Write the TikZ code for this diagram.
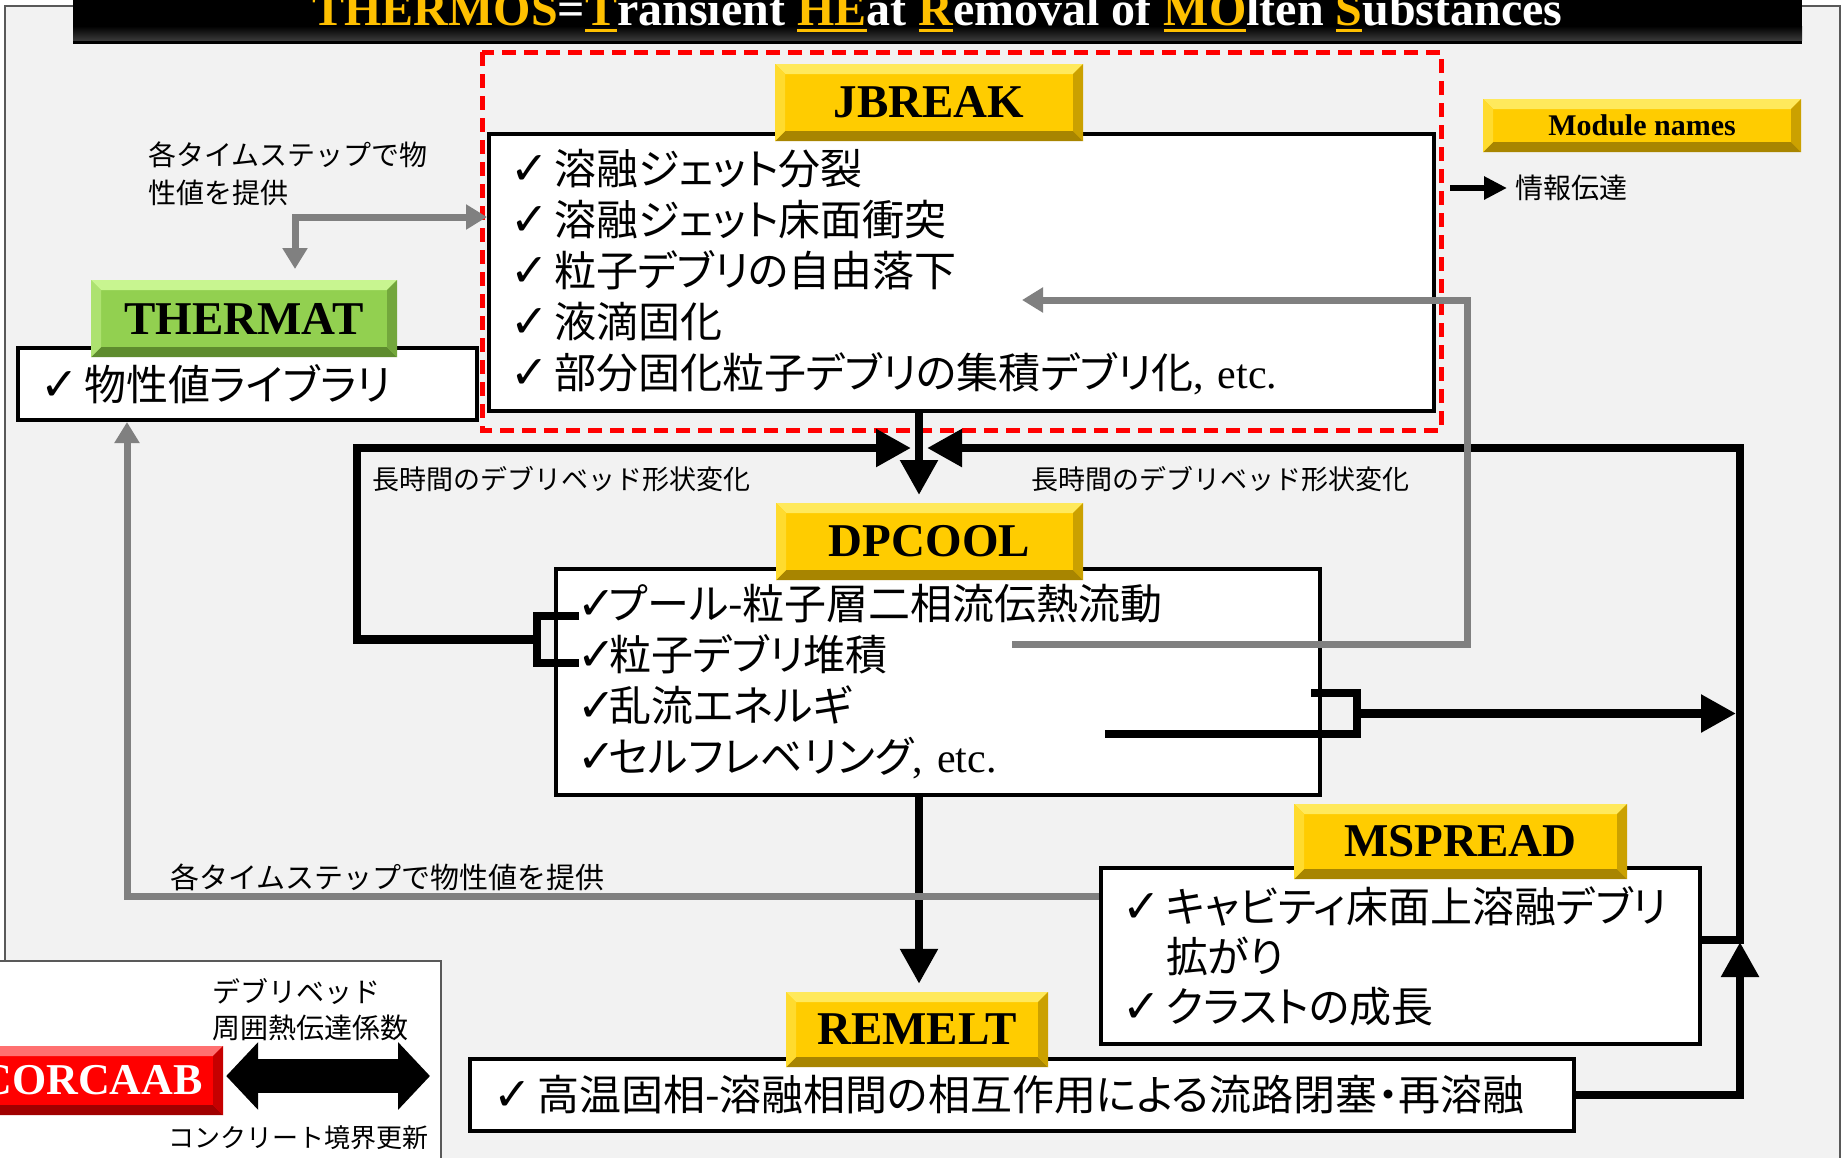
\documentclass[tikz,border=0pt]{standalone}
\usepackage{fontspec}
\setmainfont{Liberation Serif}
\newfontfamily\jp{Noto Sans CJK JP}
\newfontfamily\jpp[RawFeature=+palt]{Noto Sans CJK JP}
\newfontfamily\dv{DejaVu Sans}
\usetikzlibrary{arrows.meta}
\definecolor{bgframe}{HTML}{F2F2F2}
\definecolor{ttl}{HTML}{FFC000}
\definecolor{ybase}{HTML}{FFCC00}
\definecolor{ylight}{HTML}{FFE95C}
\definecolor{ydark}{HTML}{A88500}
\definecolor{gbase}{HTML}{92D050}
\definecolor{glight}{HTML}{C8F590}
\definecolor{gdark}{HTML}{5E8C2E}
\definecolor{rbase}{HTML}{FF0000}
\definecolor{rlight}{HTML}{FF7070}
\definecolor{rdark}{HTML}{A00000}
\definecolor{gline}{HTML}{808080}
\newcommand\ckm{\makebox[26pt][l]{\dv\fontsize{46}{46}\selectfont ✓}}
\newcommand\bodyfont{\jpp\fontsize{42}{51}\selectfont}
\newsavebox\ytubox
\newcommand\ytu[1]{\sbox\ytubox{#1}\rlap{\rule[-7pt]{\wd\ytubox}{3.5pt}}\usebox\ytubox}
\tikzset{
  bevel/.style n args={3}{fill=#1, path picture={
    \path (path picture bounding box.north west) coordinate (bnw)
          (path picture bounding box.north east) coordinate (bne)
          (path picture bounding box.south west) coordinate (bsw)
          (path picture bounding box.south east) coordinate (bse);
    \fill[#2] (bnw) -- (bne) -- ([shift={(-10pt,-10pt)}]bne) -- ([shift={(10pt,-10pt)}]bnw) -- cycle;
    \fill[#3] (bsw) -- (bse) -- ([shift={(-10pt,10pt)}]bse) -- ([shift={(10pt,10pt)}]bsw) -- cycle;
    \fill[#2!50!#1] (bnw) -- (bsw) -- ([shift={(10pt,10pt)}]bsw) -- ([shift={(10pt,-10pt)}]bnw) -- cycle;
    \fill[#3!60!#1] (bne) -- (bse) -- ([shift={(-10pt,10pt)}]bse) -- ([shift={(-10pt,-10pt)}]bne) -- cycle;
  }},
}
\begin{document}
\begin{tikzpicture}[x=1pt,y=-1pt,
  wbox/.style={draw=black, line width=4pt, fill=white, inner ysep=0pt, align=left, font=\bodyfont, anchor=center},
  modlab/.style={inner sep=0pt, font=\bfseries\fontsize{47}{47}\selectfont},
  yl/.style={bevel={ybase}{ylight}{ydark}},
  blk/.style={draw=black, line width=8.5pt},
  blkarr/.style={-{Triangle[length=35pt,width=36pt]}},
  gry/.style={draw=gline, line width=7pt},
  gryarr/.style={-{Triangle[length=21pt,width=24pt]}},
  lbl/.style={inner sep=0pt, anchor=west, align=left},
]
\useasboundingbox (0,0) rectangle (1843,1157);
\fill[white] (0,0) rectangle (1843,1157);
% frame
\draw[fill=bgframe, draw=black!65, line width=2.5pt] (5,6) rectangle (1840,1170);
\draw[fill=white, draw=black!65, line width=2.5pt] (-10,961) rectangle (441,1175);
% title
\fill[black] (73,-5) rectangle (1802,44);
\shade[top color=black, bottom color=black!78!white] (73,26) rectangle (1802,40);
\node[anchor=base, text=white, inner sep=0pt, font=\bfseries\fontsize{48}{48}\selectfont] (title) at (937.5,25)
  {{\color{ttl}THERMOS}={\color{ttl}\ytu{T}}ransient {\color{ttl}\ytu{HE}}at {\color{ttl}\ytu{R}}emoval of {\color{ttl}\ytu{MO}}lten {\color{ttl}\ytu{S}}ubstances};
% red dashed group
\draw[red, line width=5pt, dash pattern=on 14pt off 8pt] (482,52) rectangle (1441,430);
% boxes
\node[wbox, minimum width=945pt, minimum height=277pt, text width=903pt, inner xsep=21pt] (jbbox) at (961.5,272.5) {%
\ckm\kern18pt 溶融ジェット分裂\\
\ckm\kern18pt 溶融ジェット床面衝突\\
\ckm\kern18pt 粒子デブリの自由落下\\
\ckm\kern18pt 液滴固化\\
\ckm\kern18pt 部分固化粒子デブリの集積デブリ化{\rmfamily , etc.}};
\node[wbox, minimum width=764pt, minimum height=226pt, text width=722pt, inner xsep=21pt] (dpbox) at (938,682) {%
\ckm\kern6pt プール-粒子層二相流伝熱流動\\
\ckm\kern6pt 粒子デブリ堆積\\
\ckm\kern6pt 乱流エネルギ\\
\ckm\kern6pt セルフレベリング{\rmfamily , etc.}};
\node[wbox, minimum width=599pt, minimum height=176pt, text width=557pt, inner xsep=21pt, font=\jpp\fontsize{42}{50}\selectfont] (mspbox) at (1400.5,956) {%
\ckm\kern18pt キャビティ床面上溶融デブリ\\
\phantom{\ckm}\kern18pt 拡がり\\
\ckm\kern18pt クラストの成長};
\node[wbox, minimum width=1104pt, minimum height=72pt, text width=1058pt, inner xsep=23pt] (rmbox) at (1022,1095) {\ckm\kern18pt 高温固相-溶融相間の相互作用による流路閉塞・再溶融};
\node[wbox, minimum width=459pt, minimum height=72pt, text width=415pt, inner xsep=22pt] (thbox) at (247.5,384) {\ckm\kern18pt 物性値ライブラリ};
% module labels
\node[modlab, yl, minimum width=308pt, minimum height=77pt] (jblab) at (929,102.5) {JBREAK};
\node[modlab, yl, minimum width=307pt, minimum height=77pt] (dplab) at (929.5,541.5) {DPCOOL};
\node[modlab, bevel={gbase}{glight}{gdark}, minimum width=306pt, minimum height=77pt] (thlab) at (244,318.5) {THERMAT};
\node[modlab, yl, minimum width=333pt, minimum height=75pt] (msplab) at (1460.5,841.5) {MSPREAD};
\node[modlab, yl, minimum width=262pt, minimum height=75pt] (rmlab) at (917,1029.5) {REMELT};
\node[modlab, bevel={rbase}{rlight}{rdark}, text=white, minimum width=263pt, minimum height=69pt, font=\bfseries\fontsize{44}{44}\selectfont] (corlab) at (91.5,1080.5) {CORCAAB};
\node[modlab, yl, minimum width=318pt, minimum height=53pt, font=\bfseries\fontsize{30}{30}\selectfont] (modn) at (1642,125.5) {Module names};
% coordinates
\coordinate (jbx) at (919,0);
\coordinate (jbtip) at (919,495);
\coordinate (lA1) at (579,616);
\coordinate (lA2) at (537,616);
\coordinate (lA3) at (537,663);
\coordinate (lA4) at (579,663);
\coordinate (lM) at (537,639.5);
\coordinate (lC1) at (357,639.5);
\coordinate (lC2) at (357,448);
\coordinate (lTip) at (911,448);
\coordinate (rA1) at (1105,734);
\coordinate (rA2) at (1357,734);
\coordinate (rA3) at (1357,693);
\coordinate (rA4) at (1311,693);
\coordinate (rM) at (1357,713.5);
\coordinate (rTip) at (1736,713.5);
\coordinate (msj) at (1700,940);
\coordinate (busB) at (1740,940);
\coordinate (busT) at (1740,448);
\coordinate (bTip) at (927,448);
\coordinate (rmC) at (1740,1095);
\coordinate (rmTip) at (1740,942);
\coordinate (g1) at (1012,644);
\coordinate (g2) at (1467,644);
\coordinate (g3) at (1467,300);
\coordinate (g4) at (1022,300);
\coordinate (gt1) at (295,269);
\coordinate (gt2) at (295,217);
\coordinate (gh) at (127,896);
\coordinate (la1) at (1450,188);
\coordinate (corR) at (430,1076);
% black connectors
\draw[blk, blkarr] (jbbox.south -| jbx) -- (jbtip);
\draw[blk] (lA1) -- (lA2) -- (lA3) -- (lA4);
\draw[blk, blkarr] (lM) -- (lC1) -- (lC2) -- (lTip);
\draw[blk] (rA1) -- (rA2) -- (rA3) -- (rA4);
\draw[blk, blkarr] (rM) -- (rTip);
\draw[blk, blkarr] (mspbox.east |- msj) -- (busB) -- (busT) -- (bTip);
\draw[blk, blkarr] (rmbox.east) -- (rmC) -- (rmTip);
\draw[blk, blkarr] (dpbox.south -| jbtip) -- ([yshift=8pt]rmlab.north -| jbtip);
% gray connectors
\draw[gry, gryarr] (g1) -- (g2) -- (g3) -- (g4);
\draw[gry, {Triangle[length=21pt,width=24pt]}-{Triangle[length=21pt,width=24pt]}] (gt1) -- (gt2) -- (jbbox.west |- gt2);
\draw[gry, gryarr] (mspbox.west |- gh) -- (gh) -- (thbox.south -| gh);
% labels
\node[lbl, font=\jp\fontsize{28}{38}\selectfont] (lbT) at (148,174) {各タイムステップで物\\性値を提供};
\node[lbl, font=\jp\fontsize{27}{27}\selectfont] (lbL) at (372,479) {長時間のデブリベッド形状変化};
\node[lbl, font=\jp\fontsize{27}{27}\selectfont] (lbR) at (1031,479) {長時間のデブリベッド形状変化};
\node[lbl, font=\jp\fontsize{29}{29}\selectfont] (lbB) at (170,877) {各タイムステップで物性値を提供};
\node[lbl, font=\jp\fontsize{28}{28}\selectfont] (infolbl) at (1515,188) {情報伝達};
\node[lbl, font=\jp\fontsize{28}{36}\selectfont] (lbC) at (212,1010) {デブリベッド\\周囲熱伝達係数};
\node[lbl, font=\jp\fontsize{26}{26}\selectfont] (lbK) at (168,1138) {コンクリート境界更新};
% legend arrow
\draw[draw=black, line width=6pt, -{Triangle[length=23pt,width=22pt]}] (la1) -- ([xshift=-8pt]infolbl.west);
% CORCAAB double arrow
\draw[draw=black, line width=34pt, {Triangle[length=32pt,width=66pt]}-{Triangle[length=32pt,width=66pt]}] ([xshift=3pt]corlab.east |- corR) -- (corR);
\end{tikzpicture}
\end{document}
